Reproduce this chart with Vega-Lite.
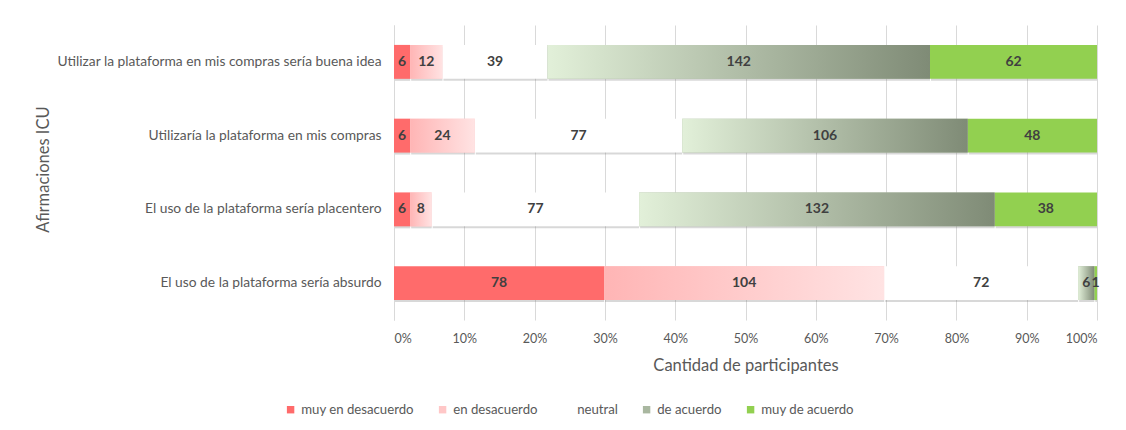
{
  "$schema": "https://vega.github.io/schema/vega-lite/v6.json",
  "width": 703,
  "height": 295,
  "autosize": "none",
  "padding": {"left": 394, "top": 25, "right": 29, "bottom": 110},
  "background": "white",
  "config": {"font": "Lato", "view": {"stroke": null}},
  "data": {
    "values": [
      {"statement": "Utilizar la plataforma en mis compras sería buena idea", "category": "muy en desacuerdo", "order": 1, "value": 6},
      {"statement": "Utilizar la plataforma en mis compras sería buena idea", "category": "en desacuerdo", "order": 2, "value": 12},
      {"statement": "Utilizar la plataforma en mis compras sería buena idea", "category": "neutral", "order": 3, "value": 39},
      {"statement": "Utilizar la plataforma en mis compras sería buena idea", "category": "de acuerdo", "order": 4, "value": 142},
      {"statement": "Utilizar la plataforma en mis compras sería buena idea", "category": "muy de acuerdo", "order": 5, "value": 62},
      {"statement": "Utilizaría la plataforma en mis compras", "category": "muy en desacuerdo", "order": 1, "value": 6},
      {"statement": "Utilizaría la plataforma en mis compras", "category": "en desacuerdo", "order": 2, "value": 24},
      {"statement": "Utilizaría la plataforma en mis compras", "category": "neutral", "order": 3, "value": 77},
      {"statement": "Utilizaría la plataforma en mis compras", "category": "de acuerdo", "order": 4, "value": 106},
      {"statement": "Utilizaría la plataforma en mis compras", "category": "muy de acuerdo", "order": 5, "value": 48},
      {"statement": "El uso de la plataforma sería placentero", "category": "muy en desacuerdo", "order": 1, "value": 6},
      {"statement": "El uso de la plataforma sería placentero", "category": "en desacuerdo", "order": 2, "value": 8},
      {"statement": "El uso de la plataforma sería placentero", "category": "neutral", "order": 3, "value": 77},
      {"statement": "El uso de la plataforma sería placentero", "category": "de acuerdo", "order": 4, "value": 132},
      {"statement": "El uso de la plataforma sería placentero", "category": "muy de acuerdo", "order": 5, "value": 38},
      {"statement": "El uso de la plataforma sería absurdo", "category": "muy en desacuerdo", "order": 1, "value": 78},
      {"statement": "El uso de la plataforma sería absurdo", "category": "en desacuerdo", "order": 2, "value": 104},
      {"statement": "El uso de la plataforma sería absurdo", "category": "neutral", "order": 3, "value": 72},
      {"statement": "El uso de la plataforma sería absurdo", "category": "de acuerdo", "order": 4, "value": 6},
      {"statement": "El uso de la plataforma sería absurdo", "category": "muy de acuerdo", "order": 5, "value": 1}
    ]
  },
  "transform": [
    {"stack": "value", "groupby": ["statement"], "sort": [{"field": "order", "order": "ascending"}], "as": ["x0", "x1"], "offset": "normalize"},
    {"calculate": "(datum.x0 + datum.x1) / 2", "as": "mid"}
  ],
  "encoding": {
    "y": {
      "field": "statement",
      "type": "nominal",
      "sort": [
        "Utilizar la plataforma en mis compras sería buena idea",
        "Utilizaría la plataforma en mis compras",
        "El uso de la plataforma sería placentero",
        "El uso de la plataforma sería absurdo"
      ],
      "scale": {"paddingInner": 0.54, "paddingOuter": 0.27},
      "axis": {
        "title": "Afirmaciones ICU",
        "titleFontSize": 16.5,
        "titleFontWeight": "normal",
        "titleColor": "#595959",
        "titleX": -343,
        "titleY": 144,
        "titleAngle": -90,
        "titleAlign": "center",
        "titleBaseline": "bottom",
        "domain": true,
        "domainColor": "#D9D9D9",
        "ticks": false,
        "labelPadding": 13,
        "labelFontSize": 13.8,
        "labelColor": "#595959",
        "labelLimit": 400
      }
    },
    "x": {
      "field": "x0",
      "type": "quantitative",
      "scale": {"domain": [0, 1], "nice": false},
      "axis": {
        "title": "Cantidad de participantes",
        "titleFontSize": 16.5,
        "titleFontWeight": "normal",
        "titleColor": "#595959",
        "titlePadding": 13,
        "format": "%",
        "values": [0, 0.1, 0.2, 0.3, 0.4, 0.5, 0.6, 0.7, 0.8, 0.9, 1],
        "grid": true,
        "gridColor": "#D9D9D9",
        "domain": false,
        "ticks": false,
        "labelPadding": 12,
        "labelFontSize": 12.5,
        "labelColor": "#595959"
      }
    },
    "x2": {"field": "x1"}
  },
  "layer": [
    {
      "mark": {"type": "bar", "color": "#7f7f7f", "opacity": 0.3, "xOffset": 1, "yOffset": 2}
    },
    {
      "mark": {"type": "bar"},
      "encoding": {
        "color": {
          "field": "category",
          "type": "nominal",
          "scale": {
            "domain": ["muy en desacuerdo", "en desacuerdo", "neutral", "de acuerdo", "muy de acuerdo"],
            "range": ["#FF6B6B", "#FFC7C7", "#FFFFFF", "#A9B7A0", "#92D050"]
          },
          "legend": {
            "title": null,
            "orient": "none",
            "legendX": -110,
            "legendY": 378,
            "direction": "horizontal",
            "columns": 5,
            "columnPadding": 22,
            "symbolType": "square",
            "symbolSize": 55,
            "symbolStrokeWidth": 0,
            "labelOffset": 4,
            "labelFontSize": 13.2,
            "labelColor": "#595959"
          }
        }
      }
    },
    {
      "transform": [{"filter": "datum.category === 'en desacuerdo'"}],
      "mark": {
        "type": "bar",
        "color": {
          "gradient": "linear", "x1": 0, "x2": 1, "y1": 0, "y2": 0,
          "stops": [{"offset": 0, "color": "#FFB5B5"}, {"offset": 1, "color": "#FFE3E3"}]
        }
      }
    },
    {
      "transform": [{"filter": "datum.category === 'de acuerdo'"}],
      "mark": {
        "type": "bar",
        "color": {
          "gradient": "linear", "x1": 0, "x2": 1, "y1": 0, "y2": 0,
          "stops": [{"offset": 0, "color": "#E2F0D9"}, {"offset": 1, "color": "#7F8B76"}]
        }
      }
    },
    {
      "mark": {"type": "text", "fontWeight": "bold", "fontSize": 14, "color": "#404040"},
      "encoding": {
        "x": {
          "field": "mid",
          "type": "quantitative",
          "axis": {
            "title": "Cantidad de participantes",
            "titleFontSize": 16.5,
            "titleFontWeight": "normal",
            "titleColor": "#595959",
            "titlePadding": 13,
            "format": "%",
            "values": [0, 0.1, 0.2, 0.3, 0.4, 0.5, 0.6, 0.7, 0.8, 0.9, 1],
            "grid": true,
            "gridColor": "#D9D9D9",
            "domain": false,
            "ticks": false,
            "labelPadding": 12,
            "labelFontSize": 12.5,
            "labelColor": "#595959"
          }
        },
        "x2": null,
        "text": {"field": "value", "type": "quantitative"}
      }
    }
  ]
}
